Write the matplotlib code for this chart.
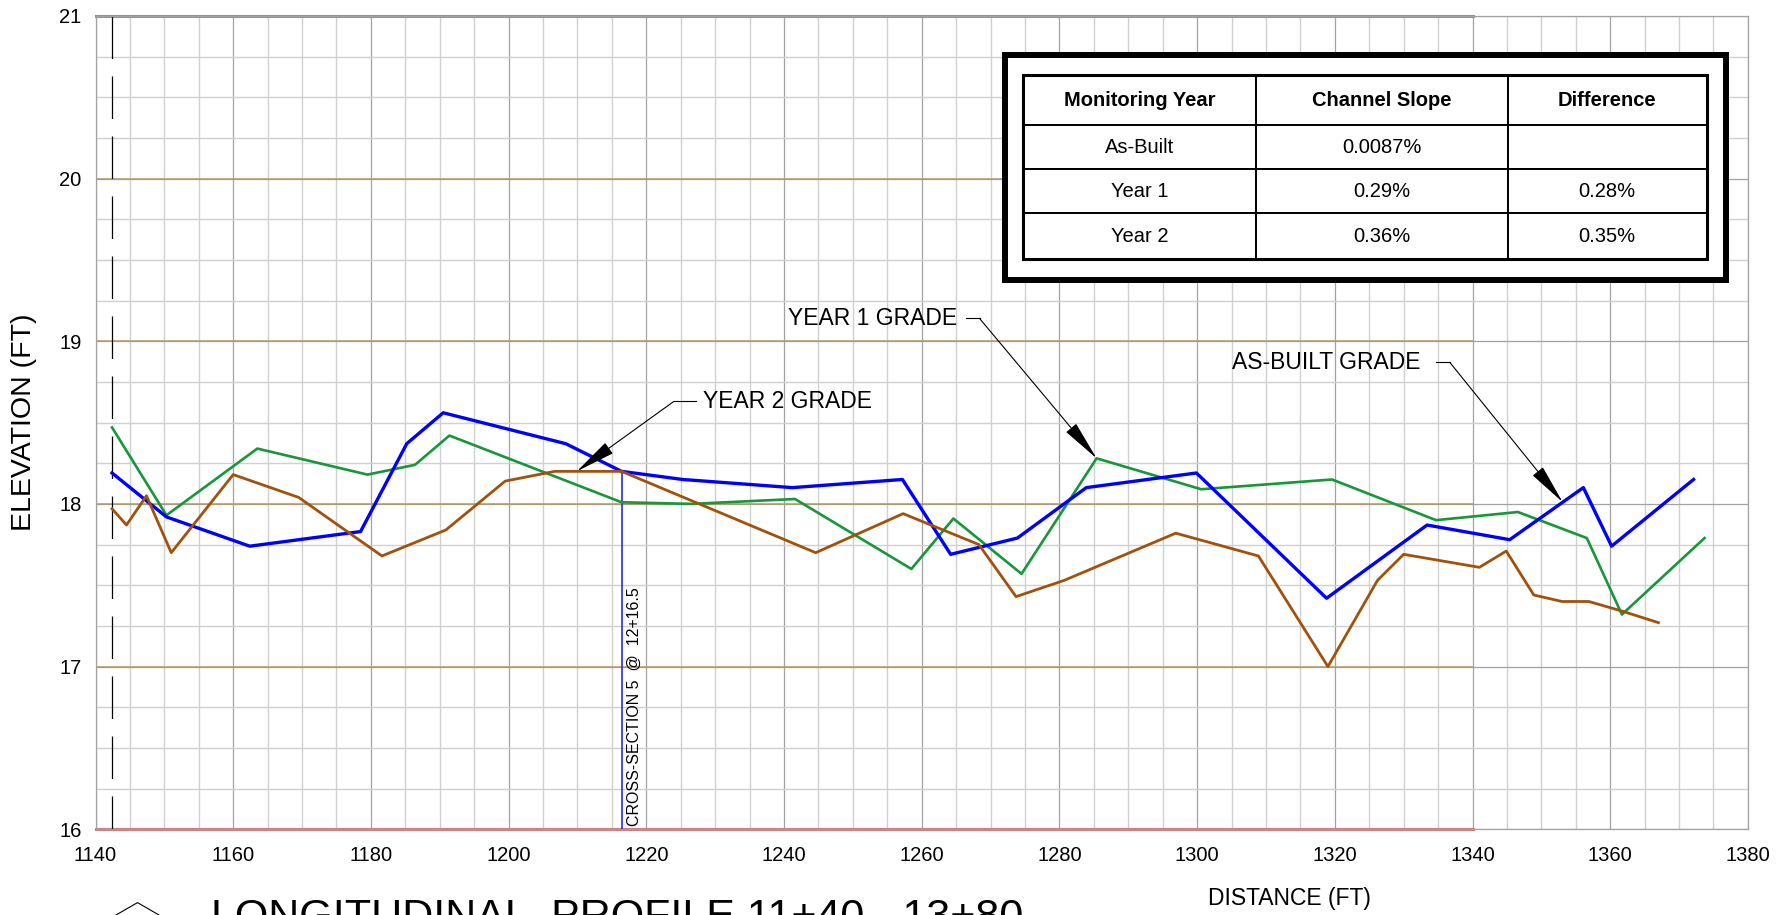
import matplotlib
matplotlib.use("Agg")
import matplotlib.pyplot as plt
from matplotlib import font_manager
from matplotlib.patches import Rectangle, RegularPolygon
import numpy as np

# ---- survey data: station (ft) and thalweg elevation (ft) ----
asbuilt_x = [1142.4, 1150.3, 1162.4, 1178.5, 1185.2, 1190.5, 1208.3, 1216.4, 1225.3,
             1241.2, 1257.2, 1264.2, 1273.9, 1283.9, 1299.9, 1318.8, 1333.4, 1345.4,
             1356.1, 1360.2, 1372.1]
asbuilt_y = [18.19, 17.92, 17.74, 17.83, 18.37, 18.56, 18.37, 18.20, 18.15,
             18.10, 18.15, 17.69, 17.79, 18.10, 18.19, 17.42, 17.87, 17.78,
             18.10, 17.74, 18.15]

year1_x = [1142.4, 1150.3, 1163.5, 1179.5, 1186.4, 1191.4, 1216.4, 1226.6, 1241.6,
           1258.5, 1264.6, 1274.5, 1285.4, 1300.6, 1319.6, 1334.7, 1346.6, 1356.6,
           1361.7, 1373.7]
year1_y = [18.47, 17.93, 18.34, 18.18, 18.24, 18.42, 18.01, 18.00, 18.03,
           17.60, 17.91, 17.57, 18.28, 18.09, 18.15, 17.90, 17.95, 17.79,
           17.32, 17.79]

year2_x = [1142.4, 1144.5, 1147.4, 1151.0, 1160.0, 1169.5, 1181.6, 1190.9, 1199.5,
           1206.7, 1216.4, 1244.6, 1257.3, 1268.3, 1273.7, 1280.7, 1296.9, 1308.9,
           1319.0, 1326.2, 1330.0, 1341.0, 1344.9, 1348.9, 1353.0, 1356.9, 1361.8,
           1367.0]
year2_y = [17.97, 17.87, 18.05, 17.70, 18.18, 18.04, 17.68, 17.84, 18.14,
           18.20, 18.20, 17.70, 17.94, 17.75, 17.43, 17.53, 17.82, 17.68,
           17.00, 17.53, 17.69, 17.61, 17.71, 17.44, 17.40, 17.40, 17.34,
           17.27]

x_ticks = list(range(1140, 1381, 20))
y_ticks = [16, 17, 18, 19, 20, 21]

table_header = ["Monitoring Year", "Channel Slope", "Difference"]
table_rows = [["As-Built", "0.0087%", ""],
              ["Year 1", "0.29%", "0.28%"],
              ["Year 2", "0.36%", "0.35%"]]

xsec_station = 1216.5
xsec_label = "CROSS-SECTION 5  @  12+16.5"
begin_station = 1142.4
sheet_end = 1340

# ---- fonts ----
installed = {f.name for f in font_manager.fontManager.ttflist}
plt.rcParams["font.family"] = ["Liberation Sans", "DejaVu Sans"]
has_narrow = "Liberation Sans Narrow" in installed
NARROW = ["Liberation Sans Narrow", "Liberation Sans", "DejaVu Sans"] if has_narrow else ["Liberation Sans", "DejaVu Sans"]

fig = plt.figure(figsize=(17.92, 9.15), dpi=100)
ax = fig.add_axes([0.0533, 0.0937, 0.9221, 0.8890])
ax.set_xlim(1140, 1380)
ax.set_ylim(16, 21)

# grid
ax.set_xticks(x_ticks)
ax.set_xticks(np.arange(1140, 1381, 5), minor=True)
ax.set_yticks(y_ticks)
ax.set_yticks(np.arange(16, 21.01, 0.25), minor=True)
ax.grid(which="minor", color="#d0d0d0", lw=1.0, zorder=0)
ax.grid(which="major", color="#a2a2a2", lw=0.9, zorder=0)
ax.set_axisbelow(True)
ax.tick_params(which="both", length=0)
ax.tick_params(axis="x", pad=12, labelsize=14.5)
ax.tick_params(axis="y", pad=10, labelsize=14.5)
for s in ax.spines.values():
    s.set_color("#a2a2a2")
    s.set_linewidth(0.9)

frac_end = (sheet_end - 1140) / (1380 - 1140)
for yv in y_ticks[1:-1]:
    ax.axhline(yv, 0, frac_end, color="#b09a66", lw=1.1, zorder=1)
for yv in (y_ticks[0], y_ticks[-1]):
    ax.axhline(yv, 0, frac_end, color="#c97a7a", lw=2.2, zorder=2, clip_on=False)

# station start reference
ax.plot([begin_station, begin_station], [21, 16], color="black", lw=0.9,
        dashes=(34, 14), zorder=2)

# cross-section marker
xsec_top = np.interp(xsec_station, year2_x, year2_y)
ax.plot([xsec_station, xsec_station], [16, xsec_top], color="#1a1ae6", lw=1.1, zorder=3)
ax.text(xsec_station + 1.8, 16.02, xsec_label, rotation=90, ha="center", va="bottom",
        fontsize=11.5, zorder=3)

# profiles
ax.plot(year1_x, year1_y, color="#17963a", lw=1.9, zorder=4)
ax.plot(asbuilt_x, asbuilt_y, color="#0000ff", lw=2.4, zorder=5)
ax.plot(year2_x, year2_y, color="#a0520c", lw=2.0, zorder=6)


def callout(label, text_x, text_y, seg_x0, seg_x1, tip):
    ax.text(text_x, text_y, label, ha="left", va="center", fontsize=16.5, zorder=8)
    ax.plot([seg_x0, seg_x1], [text_y, text_y], color="black", lw=0.8, zorder=8)
    ax.annotate("", xy=tip, xytext=(seg_x1, text_y),
                arrowprops=dict(arrowstyle="-|>,head_length=1.6,head_width=0.26",
                                color="black", lw=0.8, shrinkA=0, shrinkB=0,
                                mutation_scale=16), zorder=8)


callout("YEAR 2 GRADE", 1228.2, 18.63, 1227.2, 1224.0,
        (1209.9, np.interp(1209.9, year2_x, year2_y)))
callout("YEAR 1 GRADE", 1240.6, 19.14, 1266.5, 1268.4,
        (year1_x[12], year1_y[12]))
callout("AS-BUILT GRADE", 1305.1, 18.87, 1334.7, 1336.7,
        (1353.1, np.interp(1353.1, asbuilt_x, asbuilt_y)))

# slope summary table
frame = Rectangle((0.5504, 0.6752), 0.9866 - 0.5504, 0.9518 - 0.6752,
                  transform=ax.transAxes, facecolor="white", edgecolor="black",
                  lw=4.3, zorder=9, clip_on=False)
ax.add_patch(frame)
tb = [0.5611, 0.7007, 0.9752 - 0.5611, 0.9272 - 0.7007]
col_w = [233.4, 251.5, 199.4]
col_w = [w / sum(col_w) for w in col_w]
tbl = ax.table(cellText=table_rows, colLabels=table_header, cellLoc="center",
               colWidths=col_w, bbox=tb, zorder=10)
tbl.auto_set_font_size(False)
row_h = [50, 44, 44, 46]
for (r, c), cell in tbl.get_celld().items():
    cell.set_height(row_h[r] / sum(row_h))
    cell.set_linewidth(1.4)
    cell.set_edgecolor("black")
    t = cell.get_text()
    t.set_fontfamily(NARROW)
    t.set_fontsize(16 if has_narrow else 14.5)
    t.set_va("center")
    if r == 0:
        t.set_fontweight("bold")
ax.add_patch(Rectangle((tb[0], tb[1]), tb[2], tb[3], transform=ax.transAxes,
                       fill=False, edgecolor="black", lw=2.2, zorder=11, clip_on=False))

# axis titles
fig.text(24 / 1792, 0.5 * (0.0937 + 0.9827), "ELEVATION (FT)", rotation=90,
         ha="center", va="center", fontsize=20.5)
fig.text(1289 / 1792, 1 - 899 / 915, "DISTANCE (FT)", ha="center", va="center",
         fontsize=16.5, family=NARROW)

# drawing title
fig.text(211 / 1792, 1 - 898 / 915, "LONGITUDINAL  PROFILE 11+40 - 13+80",
         ha="left", va="top", fontsize=37 if has_narrow else 31, family=NARROW)
fig.add_artist(RegularPolygon((1.375, -0.17), numVertices=6, radius=0.294,
                              transform=fig.dpi_scale_trans, fill=False,
                              edgecolor="black", lw=0.8))

fig.savefig("out.png", dpi=100)
